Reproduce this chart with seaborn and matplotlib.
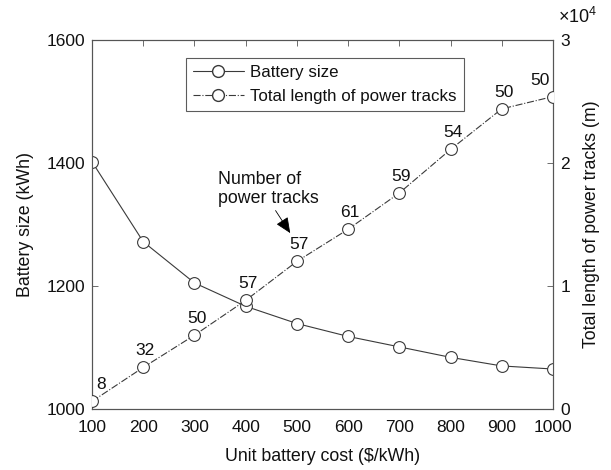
import matplotlib
matplotlib.use("Agg")
import matplotlib.pyplot as plt
import seaborn as sns
import pandas as pd
from matplotlib.ticker import ScalarFormatter
from matplotlib.lines import Line2D

sns.set_theme(style="white")
plt.rcParams['font.family'] = ['Liberation Sans', 'DejaVu Sans']
plt.rcParams['mathtext.fontset'] = 'custom'
plt.rcParams['mathtext.rm'] = 'Liberation Sans'

unit_cost = [100, 200, 300, 400, 500, 600, 700, 800, 900, 1000]
battery_size = [1402, 1272, 1205, 1167, 1139, 1118, 1101, 1084, 1070, 1065]
track_length = [620, 3380, 6000, 8830, 12000, 14610, 17560, 21100, 24400, 25400]
n_tracks = [8, 32, 50, 57, 57, 61, 59, 54, 50, 50]
left_ticks = [1000, 1200, 1400, 1600]
right_ticks = [0, 10000, 20000, 30000]

df = pd.DataFrame({"cost": unit_cost, "battery": battery_size,
                   "length": track_length, "n": n_tracks})

fs = 12.5
lfs = 12.8
lc = '#3a3a3a'
tc = '#111111'
fig = plt.figure(figsize=(6.11, 4.70), dpi=100)
ax = fig.add_axes([0.1506, 0.1298, 0.7544, 0.7851])
ax2 = ax.twinx()

sns.lineplot(data=df, x="cost", y="battery", ax=ax, color=lc, lw=0.8,
             marker='o', markersize=8.5, markerfacecolor='white',
             markeredgecolor=lc, markeredgewidth=0.8, zorder=3)
sns.lineplot(data=df, x="cost", y="length", ax=ax2, color=lc, lw=0.8,
             linestyle='-.', marker='o', markersize=8.5, markerfacecolor='white',
             markeredgecolor=lc, markeredgewidth=0.8, zorder=3)

last = len(unit_cost) - 1
for i, (x, y, n) in enumerate(zip(unit_cost, track_length, n_tracks)):
    if i == 0:
        dx = 6.5
    elif i == last:
        dx = -9.5
    else:
        dx = 1.5
    ax2.annotate(str(n), (x, y), xytext=(dx, 6.5), textcoords='offset points',
                 fontsize=fs, color=tc, ha='center', va='bottom')

ax.set_xlim(100, 1000)
ax.set_ylim(1000, 1600)
ax2.set_ylim(0, 30000)
ax.set_xticks(unit_cost)
ax.set_yticks(left_ticks)
ax2.set_yticks(right_ticks)
fmt = ScalarFormatter(useMathText=True)
fmt.set_powerlimits((0, 0))
ax2.yaxis.set_major_formatter(fmt)
ot = ax2.yaxis.get_offset_text()
ot.set_fontsize(fs + 0.5)
ot.set_horizontalalignment('left')
ot.set_x(1.012)
ax2.yaxis.OFFSETTEXTPAD = 12

ax.set_xlabel("Unit battery cost ($/kWh)", fontsize=lfs, color=tc, labelpad=9)
ax.set_ylabel("Battery size (kWh)", fontsize=lfs, color=tc, labelpad=9)
ax2.set_ylabel("Total length of power tracks (m)", fontsize=lfs, color=tc, labelpad=9)

for a in (ax, ax2):
    a.tick_params(direction='in', length=4, width=0.6, colors='#555555',
                  labelcolor=tc, labelsize=fs, top=True, pad=5)
    for s in a.spines.values():
        s.set_color('#555555')
        s.set_linewidth(0.8)
ax.tick_params(axis='y', right=False)
ax2.tick_params(axis='x', top=False, bottom=False)
ax.tick_params(axis='x', pad=8)

ax.annotate("Number of\npower tracks", xy=(487, 1286), xytext=(346, 1328),
            fontsize=lfs, color=tc, ha='left', va='bottom',
            arrowprops=dict(arrowstyle='-|>,head_length=0.8,head_width=0.35',
                            color='black', lw=0.6, mutation_scale=12,
                            shrinkA=0, shrinkB=0, relpos=(0.55, 0.0)))

handles = [Line2D([], [], color=lc, lw=0.8, marker='o', markersize=8.5,
                  markerfacecolor='white', markeredgecolor=lc),
           Line2D([], [], color=lc, lw=0.8, ls='-.', marker='o', markersize=8.5,
                  markerfacecolor='white', markeredgecolor=lc)]
leg = ax.legend(handles, ["Battery size", "Total length of power tracks"],
                loc='upper left', bbox_to_anchor=(0.204, 0.951), fontsize=12.2,
                frameon=True, fancybox=False, edgecolor='#333333',
                borderpad=0.4, labelspacing=0.55, handlelength=3.0,
                handletextpad=0.4, borderaxespad=0)
leg.get_frame().set_linewidth(0.8)
for t in leg.get_texts():
    t.set_color(tc)

fig.savefig("out.png", dpi=100)
